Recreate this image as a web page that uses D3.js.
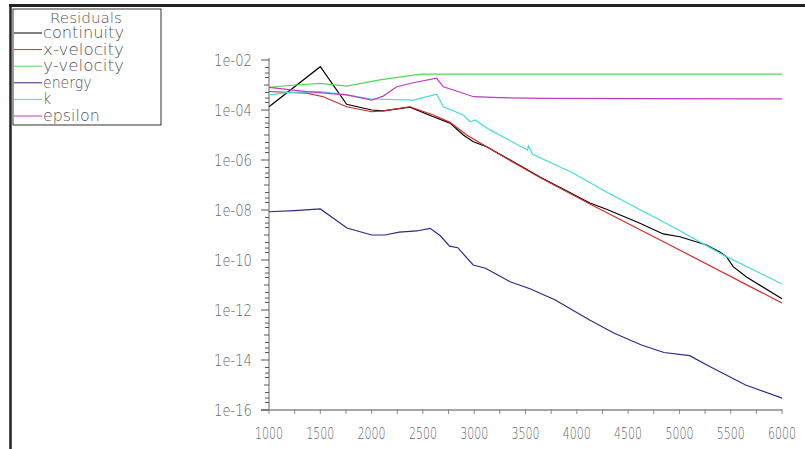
<!DOCTYPE html>
<html><head><meta charset="utf-8">
<script src="https://cdn.jsdelivr.net/npm/d3@7"></script>
<style>body{margin:0;background:#fff}svg{display:block}</style>
</head><body>
<svg id="c" width="805" height="449"></svg>
<script>
// ---- data (iteration, residual) ----
const seriesNames = ["continuity","x-velocity","y-velocity","energy","k","epsilon"];
const seriesColors = ["#000000","#d42a2a","#55d855","#2a2a8c","#44dcdc","#c03cc0"];
const continuity = [[1000,1.35e-4],[1500,5.4e-3],[1757,1.7e-4],[2000,1.0e-4],[2114,9.3e-5],[2374,1.3e-4],[2602,5.4e-5],[2764,3.0e-5],[2894,1.0e-5],[2992,5.4e-6],[3121,3.4e-6],[3316,1.2e-6],[3641,2.1e-7],[4128,1.9e-8],[4290,1.07e-8],[4615,2.95e-9],[4842,1.1e-9],[5004,8.5e-10],[5264,4.0e-10],[5394,2.1e-10],[5459,1.35e-10],[5524,5.4e-11],[5654,2.1e-11],[6000,2.8e-12]];
const xVelocity = [[1000,5.5e-4],[1367,4.7e-4],[1529,3.4e-4],[1757,1.35e-4],[2001,8.5e-5],[2114,9.3e-5],[2374,1.35e-4],[2602,6.3e-5],[2764,3.2e-5],[2927,1.0e-5],[3121,3.4e-6],[3316,1.15e-6],[3641,2.0e-7],[4128,1.75e-8],[4940,3.4e-10],[6000,1.9e-12]];
const yVelocity = [[1000,8.1e-4],[1250,1.0e-3],[1500,1.17e-3],[1757,9.1e-4],[2081,1.6e-3],[2406,2.5e-3],[2500,2.7e-3],[6000,2.7e-3]];
const energy = [[1000,8.5e-9],[1250,9.5e-9],[1500,1.1e-8],[1760,1.9e-9],[2000,1.0e-9],[2130,1.0e-9],[2270,1.3e-9],[2440,1.45e-9],[2570,1.85e-9],[2670,9.3e-10],[2760,3.6e-10],[2840,3.1e-10],[2990,6.3e-11],[3110,4.7e-11],[3350,1.35e-11],[3550,6.9e-12],[3790,2.5e-12],[4125,4.0e-13],[4360,1.2e-13],[4630,4.0e-14],[4850,2.0e-14],[5100,1.5e-14],[5300,5.4e-15],[5645,1.0e-15],[6000,3.0e-16]];
const kRes = [[1000,4.0e-4],[1200,5.1e-4],[1497,5.4e-4],[1757,4.0e-4],[2001,2.75e-4],[2406,2.5e-4],[2634,4.3e-4],[2699,1.35e-4],[2894,6.3e-5],[2960,3.4e-5],[3008,4.0e-5],[3154,1.6e-5],[3520,2.5e-6],[3528,3.6e-6],[3569,1.7e-6],[3963,3.0e-7],[4285,5.4e-8],[4938,2.1e-9],[5425,1.6e-10],[6000,1.1e-11]];
const epsilon = [[1000,8.1e-4],[1367,5.4e-4],[1757,4.0e-4],[2001,2.5e-4],[2114,3.6e-4],[2244,8.5e-4],[2406,1.23e-3],[2634,1.86e-3],[2699,8.5e-4],[2797,6.3e-4],[2992,3.4e-4],[3251,3.1e-4],[3700,2.9e-4],[6000,2.8e-4]];
const seriesData = [continuity,xVelocity,yVelocity,energy,kRes,epsilon];
const xTicks = [1000,1500,2000,2500,3000,3500,4000,4500,5000,5500,6000];
const yTickLabels = ["1e-02","1e-04","1e-06","1e-08","1e-10","1e-12","1e-14","1e-16"];
const legendTitle = "Residuals";

// ---- drawing ----
const svg = d3.select("#c");
const x = d3.scaleLinear().domain([1000,6000]).range([269,782]);
const y = d3.scaleLog().domain([1e-16,1e-2]).range([410,60]);
const textCol = "#666", axisCol = "#8a8a8a";
const font = "'DejaVu Sans','Liberation Sans',sans-serif";

// frame (top and left edges only)
svg.append("line").attr("x1",9).attr("x2",805).attr("y1",5.5).attr("y2",5.5)
  .attr("stroke","#222").attr("stroke-width",3);
svg.append("line").attr("x1",10.5).attr("x2",10.5).attr("y1",4).attr("y2",449)
  .attr("stroke","#222").attr("stroke-width",2.5);

// axes lines
svg.append("line").attr("x1",x(1000)).attr("x2",x(1000)).attr("y1",y(1e-2)-2).attr("y2",y(1e-16))
  .attr("stroke",axisCol).attr("stroke-width",1.3);
svg.append("line").attr("x1",x(1000)-8).attr("x2",x(6000)).attr("y1",y(1e-16)).attr("y2",y(1e-16))
  .attr("stroke",axisCol).attr("stroke-width",1.3);

// x ticks (every 250)
const xt = d3.range(1000,6001,250);
svg.append("g").selectAll("line").data(xt).join("line")
  .attr("x1",d=>x(d)).attr("x2",d=>x(d)).attr("y1",y(1e-16)-1).attr("y2",y(1e-16)+4)
  .attr("stroke",axisCol).attr("stroke-width",1);
svg.append("g").selectAll("text").data(xTicks).join("text")
  .attr("x",d=>x(d)).attr("y",439).attr("text-anchor","middle")
  .attr("font-family",font).attr("font-weight",200).attr("font-size",15.5).attr("fill",textCol)
  .attr("textLength",28).attr("lengthAdjust","spacingAndGlyphs").text(d=>d);

// y ticks
const yt = [];
for (let e=-16;e<=-2;e++){
  yt.push({v:Math.pow(10,e),len:(e%2===0)?8:5});
  if (e<-2) [5,3,2].forEach(m=>yt.push({v:m*Math.pow(10,e),len:4}));
}
svg.append("g").selectAll("line").data(yt).join("line")
  .attr("x1",d=>x(1000)-d.len).attr("x2",x(1000)).attr("y1",d=>y(d.v)).attr("y2",d=>y(d.v))
  .attr("stroke","#555").attr("stroke-width",1);
svg.append("g").selectAll("text").data(yTickLabels).join("text")
  .attr("x",252).attr("y",d=>y(+d)+6).attr("text-anchor","end")
  .attr("font-family",font).attr("font-weight",200).attr("font-size",15.5).attr("fill",textCol)
  .attr("textLength",38).attr("lengthAdjust","spacingAndGlyphs").text(d=>d);

// lines
const line = d3.line().x(d=>x(d[0])).y(d=>y(d[1]));
svg.append("g").selectAll("path").data(seriesData).join("path")
  .attr("d",line).attr("fill","none").attr("stroke-width",1.2)
  .attr("stroke",(d,i)=>seriesColors[i]);

// legend
const lg = svg.append("g");
lg.append("rect").attr("x",13).attr("y",9).attr("width",148).attr("height",116)
  .attr("fill","#fff").attr("stroke","#333").attr("stroke-width",1);
lg.append("text").attr("x",86).attr("y",23).attr("text-anchor","middle")
  .attr("font-family",font).attr("font-weight",200).attr("font-size",14).attr("fill","#555")
  .attr("textLength",72).attr("lengthAdjust","spacingAndGlyphs").text(legendTitle);
const ly = i => 33 + i*16.6;
lg.selectAll("line.l").data(seriesNames).join("line").attr("class","l")
  .attr("x1",14).attr("x2",42).attr("y1",(d,i)=>ly(i)).attr("y2",(d,i)=>ly(i))
  .attr("stroke",(d,i)=>seriesColors[i]).attr("stroke-width",1);
lg.selectAll("text.t").data(seriesNames).join("text").attr("class","t")
  .attr("x",43).attr("y",(d,i)=>ly(i)+5)
  .attr("font-family",font).attr("font-weight",200).attr("font-size",15).attr("fill","#555")
  .attr("textLength",d=>d.length*8.1).attr("lengthAdjust","spacingAndGlyphs").text(d=>d);
</script>
</body></html>
